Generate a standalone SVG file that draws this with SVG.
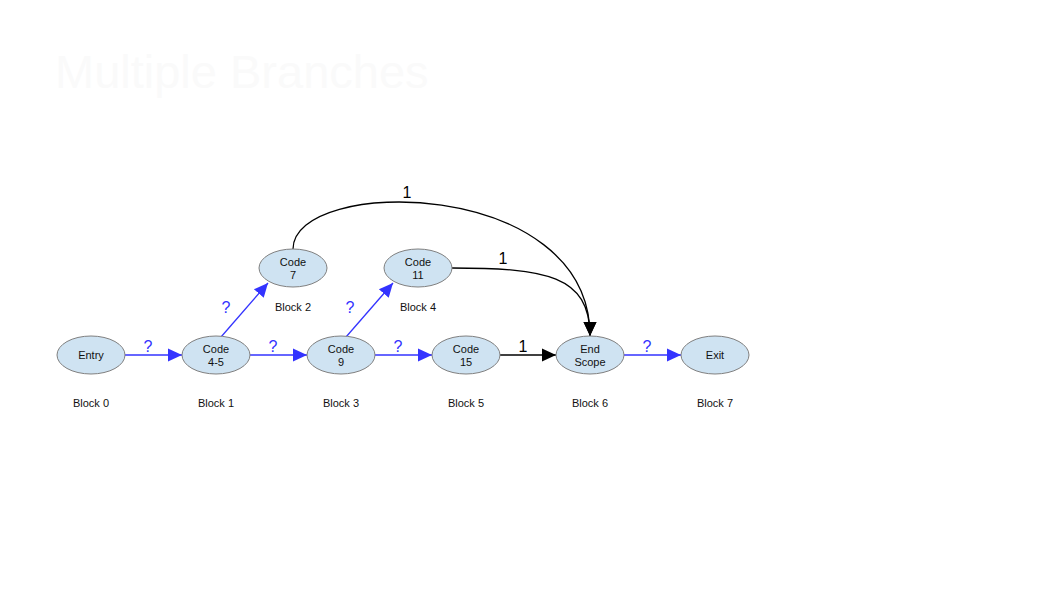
<svg xmlns="http://www.w3.org/2000/svg" width="1058" height="595" viewBox="0 0 1058 595">
<style>
.node ellipse{fill:#cfe3f2;stroke:#808080;stroke-width:1}
.nt{font-family:"Liberation Sans",Arial,sans-serif;font-size:11px;fill:#111;text-anchor:middle}
.bl{font-family:"Liberation Sans",Arial,sans-serif;font-size:11px;fill:#111;text-anchor:middle}
.blue{stroke:#3333ff;stroke-width:1.3;fill:none}
.black{stroke:#000;stroke-width:1.3;fill:none}
.ql{font-family:"Liberation Sans",Arial,sans-serif;font-size:16px;fill:#3333ff;text-anchor:middle}
.ol{font-family:"Liberation Sans",Arial,sans-serif;font-size:16px;fill:#000;text-anchor:middle}
</style>
<defs>
<marker id="ab" markerUnits="userSpaceOnUse" markerWidth="16" markerHeight="16" viewBox="0 0 16 16" refX="14" refY="8" orient="auto"><path d="M0,1.5 L14,8 L0,14.5 Z" fill="#3333ff"/></marker>
<marker id="ak" markerUnits="userSpaceOnUse" markerWidth="16" markerHeight="16" viewBox="0 0 16 16" refX="14" refY="8" orient="auto"><path d="M0,1.5 L14,8 L0,14.5 Z" fill="#000"/></marker>
</defs>
<rect width="1058" height="595" fill="#fff"/>
<text x="55" y="88" font-family="'Liberation Sans',Arial,sans-serif" font-size="47" fill="#fafafa">Multiple Branches</text>
<g id="connectors">
<line class="blue" x1="125" y1="355" x2="182" y2="355" marker-end="url(#ab)"/>
<line class="blue" x1="250" y1="355" x2="307" y2="355" marker-end="url(#ab)"/>
<line class="blue" x1="375" y1="355" x2="432" y2="355" marker-end="url(#ab)"/>
<line class="black" x1="500" y1="355" x2="556" y2="355" marker-end="url(#ak)"/>
<line class="blue" x1="624" y1="355" x2="681" y2="355" marker-end="url(#ab)"/>
<line class="blue" x1="221" y1="337" x2="268" y2="283" marker-end="url(#ab)"/>
<line class="blue" x1="346" y1="337" x2="393" y2="283" marker-end="url(#ab)"/>
<path class="black" d="M293,249 C293,176 590,176 590,336" marker-end="url(#ak)"/>
<path class="black" d="M452,268 C545,268 590,275 590,336" marker-end="url(#ak)"/>
<text class="ql" x="148" y="352">?</text>
<text class="ql" x="273" y="352">?</text>
<text class="ql" x="398" y="352">?</text>
<text class="ol" x="523" y="352">1</text>
<text class="ql" x="647" y="352">?</text>
<text class="ql" x="226" y="313">?</text>
<text class="ql" x="350" y="313">?</text>
<text class="ol" x="407" y="198">1</text>
<text class="ol" x="503" y="264">1</text>
</g>
<g id="n0" class="node"><ellipse cx="91" cy="355" rx="34" ry="19"/><text class="nt" x="91" y="359">Entry</text><text class="bl" x="91" y="407">Block 0</text></g>
<g id="n1" class="node"><ellipse cx="216" cy="355" rx="34" ry="19"/><text class="nt" x="216" y="353">Code</text><text class="nt" x="216" y="366">4-5</text><text class="bl" x="216" y="407">Block 1</text></g>
<g id="n2" class="node"><ellipse cx="293" cy="268" rx="34" ry="19"/><text class="nt" x="293" y="266">Code</text><text class="nt" x="293" y="279">7</text><text class="bl" x="293" y="311">Block 2</text></g>
<g id="n3" class="node"><ellipse cx="341" cy="355" rx="34" ry="19"/><text class="nt" x="341" y="353">Code</text><text class="nt" x="341" y="366">9</text><text class="bl" x="341" y="407">Block 3</text></g>
<g id="n4" class="node"><ellipse cx="418" cy="268" rx="34" ry="19"/><text class="nt" x="418" y="266">Code</text><text class="nt" x="418" y="279">11</text><text class="bl" x="418" y="311">Block 4</text></g>
<g id="n5" class="node"><ellipse cx="466" cy="355" rx="34" ry="19"/><text class="nt" x="466" y="353">Code</text><text class="nt" x="466" y="366">15</text><text class="bl" x="466" y="407">Block 5</text></g>
<g id="n6" class="node"><ellipse cx="590" cy="355" rx="34" ry="19"/><text class="nt" x="590" y="353">End</text><text class="nt" x="590" y="366">Scope</text><text class="bl" x="590" y="407">Block 6</text></g>
<g id="n7" class="node"><ellipse cx="715" cy="355" rx="34" ry="19"/><text class="nt" x="715" y="359">Exit</text><text class="bl" x="715" y="407">Block 7</text></g>
</svg>
